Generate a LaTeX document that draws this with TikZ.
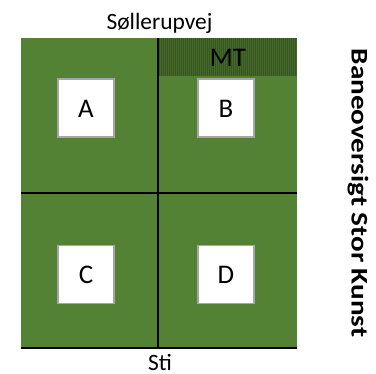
\documentclass[tikz,border=0pt]{standalone}
\usepackage{fontspec}
\setmainfont{Carlito}
\definecolor{field}{HTML}{548235}
\definecolor{mtband}{HTML}{436829}
\definecolor{mtline}{HTML}{375620}
\definecolor{boxborder}{HTML}{A6A6A6}
\begin{document}
\begin{tikzpicture}[x=1bp,y=-1bp,
  court/.style={fill=field,draw=none},
  net/.style={line width=2.7bp,draw=black},
  lane/.style={draw=boxborder,line width=1.3bp,fill=white,minimum width=56bp,minimum height=58bp,inner sep=0},
  lanelabel/.style={font=\fontsize{27}{32}\selectfont,inner sep=0,anchor=base},
  streetlabel/.style={font=\fontsize{23.5}{28}\selectfont,inner sep=0,anchor=base},
  titlelabel/.style={font=\fontsize{24}{29}\selectfont\bfseries,inner sep=0,anchor=base,rotate=-90,xscale=1.22}]
\useasboundingbox (0,0) rectangle (376,374);
% field
\fill[court] (21,38) rectangle (297,347);
% MT band
\fill[mtband] (158,38) rectangle (297,76);
\foreach \xx in {159,161,...,296} \draw[mtline,line width=0.6bp] (\xx,38) -- (\xx,76);
\node[lanelabel] (mt) at (228,66.7) {MT};
% lines
\coordinate (ntop) at (158,38);
\coordinate (nbot) at (158,348);
\coordinate (hl) at (21,193);
\coordinate (hr) at (297,193);
\coordinate (bl) at (21,348);
\coordinate (br) at (297,348);
\draw[net] (ntop) -- (nbot);
\draw[net] (hl) -- (hr);
\draw[net] (bl) -- (br);
% boxes
\node[lane] (A) at (86,108) {};
\node[lane] (B) at (226,108) {};
\node[lane] (C) at (86,274.5) {};
\node[lane] (D) at (226,274.5) {};
\node[lanelabel] (a) at (86,117.3) {A};
\node[lanelabel] (b) at (226,117.3) {B};
\node[lanelabel] (c) at (86,283.3) {C};
\node[lanelabel] (d) at (226,283.3) {D};
% street labels
\node[streetlabel] (top) at (159.5,29.3) {Søllerupvej};
\node[streetlabel] (bottom) at (160,370.5) {Sti};
% title
\node[titlelabel] (title) at (351.5,193) {Baneoversigt Stor Kunst};
\end{tikzpicture}
\end{document}
